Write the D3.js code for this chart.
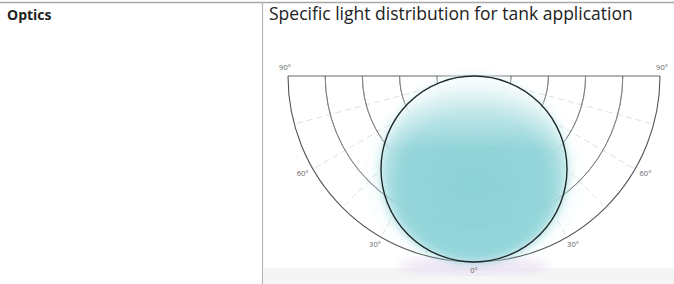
<!DOCTYPE html>
<html>
<head>
<meta charset="utf-8">
<script src="https://cdn.jsdelivr.net/npm/d3@7"></script>
<style>
  body { margin: 0; background: #fff; }
  svg { display: block; }
</style>
</head>
<body>
<div class="container"></div>
<script>
// data
const headers = ["Optics", "Specific light distribution for tank application"]
const ringFractions = [0.2, 0.4, 0.6, 0.8, 1.0]
const gridAngles = [-75, -60, -45, -30, -15, 0, 15, 30, 45, 60, 75]
const angleLabels = [
    { angle: -90, text: "90°" }, { angle: -60, text: "60°" }, { angle: -30, text: "30°" },
    { angle: 0, text: "0°" },
    { angle: 30, text: "30°" }, { angle: 60, text: "60°" }, { angle: 90, text: "90°" }
]
const beamDiameter = 1.0 // relative to the outer ring radius

const width = 674
const height = 284
const cx = 474, cy = 76, R = 186

let svg = d3.select(".container")
    .append("svg")
    .attr("width", width)
    .attr("height", height)

let rScale = d3.scaleLinear().domain([0, 1]).range([0, R])
let aScale = d3.scaleLinear().domain([-90, 90]).range([-Math.PI / 2, Math.PI / 2])
// angle measured from straight down, positive to the right
let px = (a, r) => cx + r * Math.sin(aScale(a))
let py = (a, r) => cy + r * Math.cos(aScale(a))

let defs = svg.append("defs")
let grad = defs.append("radialGradient").attr("id", "beam")
    .attr("cx", "50%").attr("cy", "58%").attr("r", "56%")
grad.append("stop").attr("offset", "0%").attr("stop-color", "#8ad2d7")
grad.append("stop").attr("offset", "70%").attr("stop-color", "#92d5da")
grad.append("stop").attr("offset", "90%").attr("stop-color", "#bce6e8")
grad.append("stop").attr("offset", "100%").attr("stop-color", "#e6f6f7")
let glow = defs.append("radialGradient").attr("id", "glow")
glow.append("stop").attr("offset", "55%").attr("stop-color", "#cdeef0").attr("stop-opacity", 0.9)
glow.append("stop").attr("offset", "100%").attr("stop-color", "#ffffff").attr("stop-opacity", 0)
defs.append("filter").attr("id", "blur").append("feGaussianBlur").attr("stdDeviation", 5)
let topFade = defs.append("linearGradient").attr("id", "topfade").attr("x1", 0).attr("x2", 0).attr("y1", 0).attr("y2", 1)
topFade.append("stop").attr("offset", "0%").attr("stop-color", "#fff").attr("stop-opacity", 0.8)
topFade.append("stop").attr("offset", "40%").attr("stop-color", "#fff").attr("stop-opacity", 0)

// frame
svg.append("line").attr("x1", 0).attr("x2", width).attr("y1", 2.5).attr("y2", 2.5)
    .attr("stroke", "#a8a8a8").attr("stroke-width", 1.5)
svg.append("line").attr("x1", 262.5).attr("x2", 262.5).attr("y1", 2).attr("y2", height)
    .attr("stroke", "#b5b5b5").attr("stroke-width", 1.2)
svg.append("rect").attr("x", 263).attr("y", 268).attr("width", width - 263).attr("height", 16)
    .attr("fill", "#f5f5f5")

svg.selectAll("text.head")
    .data(headers)
    .join("text")
    .attr("class", "head")
    .attr("x", (d, i) => i == 0 ? 7 : 269)
    .attr("y", 20)
    .attr("font-family", "Open Sans, sans-serif")
    .attr("font-size", (d, i) => i == 0 ? 14 : 17.5)
    .attr("font-weight", (d, i) => i == 0 ? 700 : 400)
    .attr("fill", "#222")
    .text(d => d)

// beam glow (behind the grid)
let bR = rScale(beamDiameter) / 2
svg.append("ellipse").attr("cx", cx).attr("cy", cy + bR + 8).attr("rx", bR * 1.3).attr("ry", bR * 1.1)
    .attr("fill", "url(#glow)").attr("filter", "url(#blur)")
svg.append("ellipse").attr("cx", cx).attr("cy", cy + 2 * bR + 4).attr("rx", 75).attr("ry", 8)
    .attr("fill", "#e6d8f0").attr("opacity", 0.7).attr("filter", "url(#blur)")

// radial grid lines
svg.append("g")
    .selectAll("line")
    .data(gridAngles)
    .join("line")
    .attr("x1", a => px(a, rScale(ringFractions[0])))
    .attr("y1", a => py(a, rScale(ringFractions[0])))
    .attr("x2", a => px(a, R))
    .attr("y2", a => py(a, R))
    .attr("stroke", "#9aa7a8")
    .attr("stroke-width", 0.6)
    .attr("stroke-dasharray", "6 4")
    .attr("opacity", 0.6)

// rings
let arc = d3.arc()
svg.append("g")
    .attr("transform", `translate(${cx},${cy})`)
    .selectAll("path")
    .data(ringFractions)
    .join("path")
    .attr("d", f => arc({ innerRadius: rScale(f), outerRadius: rScale(f), startAngle: Math.PI / 2, endAngle: 3 * Math.PI / 2 }))
    .attr("fill", "none")
    .attr("stroke", (f, i) => i == ringFractions.length - 1 ? "#555" : "#777")
    .attr("stroke-width", (f, i) => i == ringFractions.length - 1 ? 1.1 : 0.8)

svg.append("line").attr("x1", cx - R).attr("x2", cx + R).attr("y1", cy).attr("y2", cy)
    .attr("stroke", "#666").attr("stroke-width", 1)

// beam fill over the grid, so the rings fade inside it
svg.append("circle").attr("cx", cx).attr("cy", cy + bR).attr("r", bR + 1)
    .attr("fill", "url(#beam)").attr("filter", "url(#blur)").attr("opacity", 0.97)
svg.append("circle").attr("cx", cx).attr("cy", cy + bR).attr("r", bR)
    .attr("fill", "url(#topfade)")

// beam outline
svg.append("circle").attr("cx", cx).attr("cy", cy + bR).attr("r", bR)
    .attr("fill", "none").attr("stroke", "#1f2a2c").attr("stroke-width", 1.4)

// angle labels
svg.append("g")
    .selectAll("text")
    .data(angleLabels)
    .join("text")
    .attr("x", d => Math.abs(d.angle) == 90 ? px(d.angle, R) + (d.angle < 0 ? -3 : 2) : px(d.angle, R + 12))
    .attr("y", d => Math.abs(d.angle) == 90 ? cy - 6 : py(d.angle, R + 8) + 3)
    .attr("text-anchor", "middle")
    .attr("font-family", "Open Sans, sans-serif")
    .attr("font-size", 7.5)
    .attr("fill", "#666")
    .text(d => d.text)
</script>
</body>
</html>
